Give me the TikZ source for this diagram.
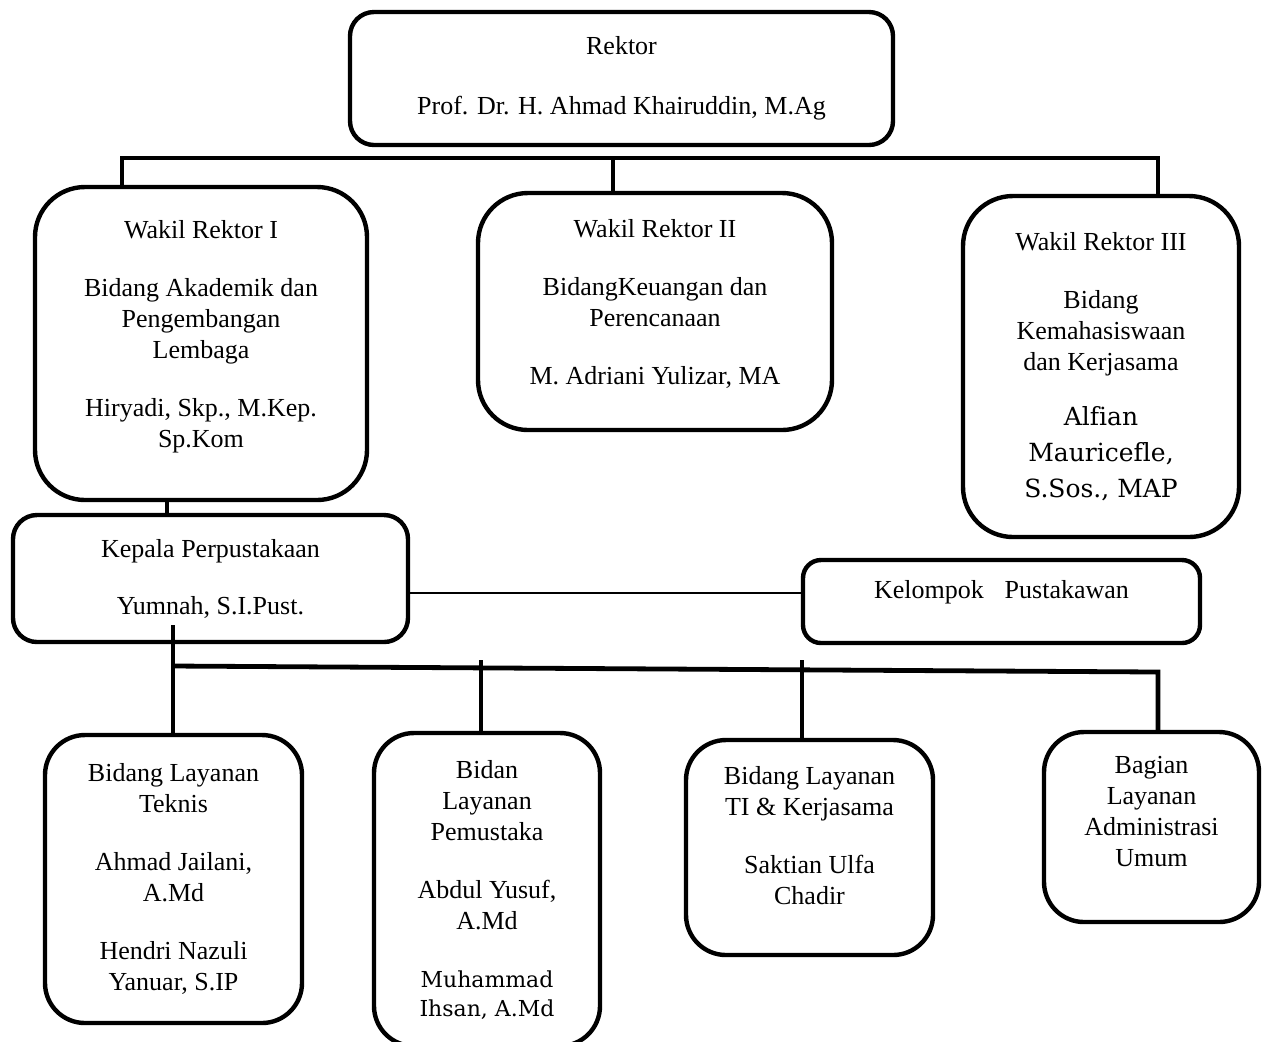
\documentclass[tikz,border=0pt]{standalone}
\usepackage{fontspec}
\setmainfont{Liberation Serif}
\newfontfamily\wideserif[Ligatures=NoCommon]{DejaVu Serif}
\newcommand\widename[2]{{\wideserif\fontsize{#1}{#1}\selectfont #2}}

\begin{document}
\begin{tikzpicture}[x=0.5pt,y=-0.5pt,
	box/.style={draw,line width=2.2pt,align=center,inner sep=0pt,outer sep=0pt,font=\fontsize{13}{15.5}\selectfont},
	bus/.style={line width=2.4pt},
	link/.style={line width=0.8pt}]
	\useasboundingbox (0,0) rectangle (1262,1041);

	\node[box,rounded corners=12pt,minimum width=271.5pt,minimum height=66.5pt] (rektor) at (621.5,78.5)
		{Rektor\\[14.5pt]Prof. Dr. H. Ahmad Khairuddin, M.Ag};
	\node[box,rounded corners=25pt,minimum width=166pt,minimum height=156.5pt] (wr1) at (201,343.5)
		{Wakil Rektor I\\[13.5pt]Bidang Akademik dan\\Pengembangan\\Lembaga\\[13.5pt]Hiryadi, Skp., M.Kep.\\Sp.Kom\\[-6pt]\mbox{}};
	\node[box,rounded corners=25pt,minimum width=177pt,minimum height=118.5pt] (wr2) at (655,311.5)
		{Wakil Rektor II\\[13.5pt]BidangKeuangan dan\\Perencanaan\\[13.5pt]M. Adriani Yulizar, MA\\[-6pt]\mbox{}};
	\node[box,rounded corners=25pt,minimum width=138pt,minimum height=170.5pt] (wr3) at (1101,366.5)
		{Wakil Rektor III\\[13.5pt]Bidang\\Kemahasiswaan\\dan Kerjasama\\[12pt]\widename{12.5}{Alfian}\\[2.5pt]\widename{12.5}{Mauricefle,}\\[2.5pt]\widename{12.5}{S.Sos., MAP}};
	\node[box,rounded corners=12pt,minimum width=197.5pt,minimum height=63.5pt] (kepala) at (210.5,578.5)
		{Kepala Perpustakaan\\[13pt]Yumnah, S.I.Pust.};
	\node[box,rounded corners=9pt,minimum width=198.5pt,minimum height=41.5pt] (kelompok) at (1001.5,601.5)
		{Kelompok\hspace{0.8em}Pustakawan\\[-3.5pt]\mbox{}};
	\node[box,rounded corners=20pt,minimum width=128.5pt,minimum height=144pt] (b1) at (173.5,879)
		{Bidang Layanan\\Teknis\\[13.5pt]Ahmad Jailani,\\A.Md\\[13.5pt]Hendri Nazuli\\Yanuar, S.IP};
	\node[box,rounded corners=20pt,minimum width=113pt,minimum height=156.5pt] (b2) at (487,889.5)
		{Bidan\\Layanan\\Pemustaka\\[13.5pt]Abdul Yusuf,\\A.Md\\[13.5pt]\widename{11}{Muhammad}\\[-1pt]\widename{11}{Ihsan, A.Md}};
	\node[box,rounded corners=20pt,minimum width=123.5pt,minimum height=107.5pt] (b3) at (809.5,847.5)
		{Bidang Layanan\\TI \& Kerjasama\\[13.5pt]Saktian Ulfa\\Chadir\\[-3.5pt]\mbox{}};
	\node[box,rounded corners=20pt,minimum width=107.5pt,minimum height=95pt] (b4) at (1151.5,827)
		{Bagian\\Layanan\\Administrasi\\Umum\\[0pt]\mbox{}};

	% rektor level
	\coordinate (t1) at (122,158);
	\coordinate (t2) at (613,158);
	\coordinate (t3) at (1158,158);
	\draw[bus] (wr1.north -| t1) -- (t1) -- (t3) -- (wr3.north -| t3);
	\draw[bus] (t2) -- (wr2.north -| t2);

	% perpustakaan
	\coordinate (k1) at (167,500);
	\coordinate (k2) at (0,593);
	\draw[bus] (wr1.south -| k1) -- (kepala.north -| k1);
	\draw[link] (kepala.east |- k2) -- (kelompok.west |- k2);

	\coordinate (s1) at (173,625);
	\coordinate (l1) at (173,666);
	\coordinate (l2) at (481,660);
	\coordinate (l3) at (802,660);
	\coordinate (l4) at (1158,672);
	\draw[bus] (s1) -- (b1.north -| s1);
	\draw[bus] (l1) -- (l4) -- (b4.north -| l4);
	\draw[bus] (l2) -- (b2.north -| l2);
	\draw[bus] (l3) -- (b3.north -| l3);
\end{tikzpicture}
\end{document}
